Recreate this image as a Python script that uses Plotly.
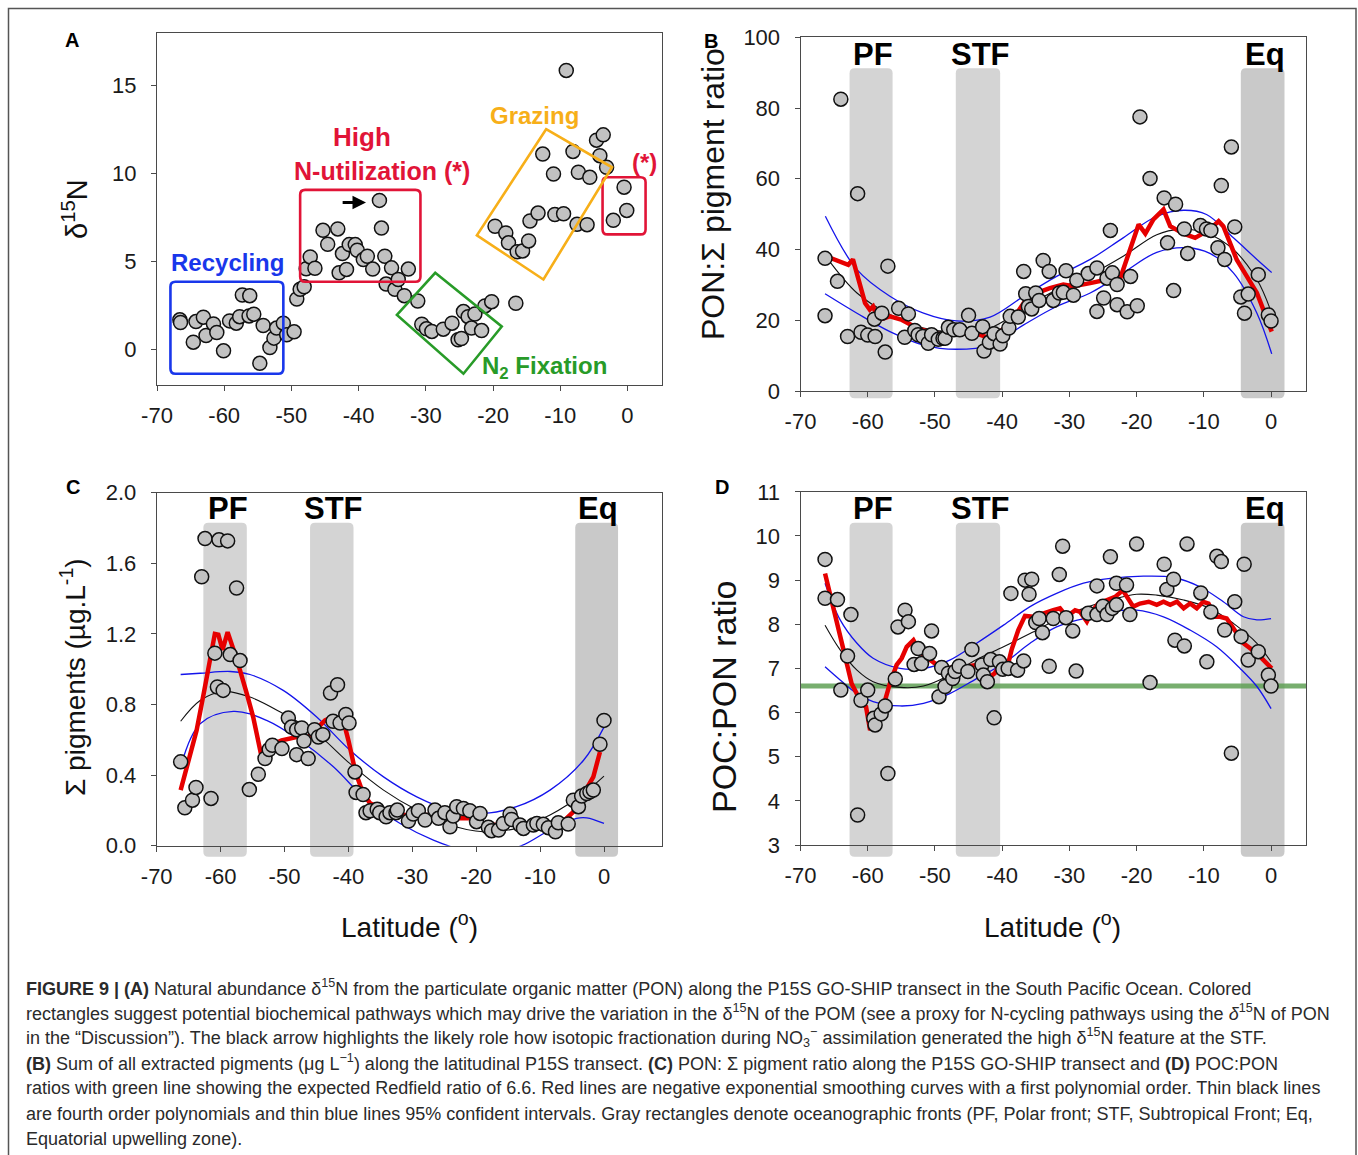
import plotly.graph_objects as go

W, H = 1358, 1155
FONT = "Liberation Sans, Arial, sans-serif"

# ---------------- Panel A data ----------------
a_lat = [-66.6,-66.5,-64.2,-63.1,-64.6,-62.7,-61.6,-61.1,-60.1,-59.2,
         -58.2,-57.7,-57.3,-56.2,-56.3,-55.6,-54.2,-54.7,-53.2,-52.6,
         -52.2,-51.2,-50.7,-49.6,-49.2,-48.7,-48.1,-47.8,-47.2,-46.5,
         -45.3,-44.6,-43.1,-42.9,-41.8,-42.4,-41.4,-40.5,-40.2,-39.3,
         -38.7,-37.9,-36.9,-36.6,-36.1,-35.9,-35.1,-34.6,-34.1,-33.2,
         -32.6,-31.2,-30.6,-29.9,-29.1,-27.4,-26.1,-25.2,-24.7,-24.4,
         -23.7,-22.7,-23.2,-21.7,-21.2,-20.2,-16.6,-19.7,-18.1,-17.7,
         -16.4,-15.6,-14.7,-14.5,-13.3,-12.6,-11.0,-10.8,-9.5,-9.1,
         -8.1,-7.3,-7.5,-6.0,-5.6,-4.6,-3.6,-4.1,-3.1,-0.5,
         -0.1,-2.1]
a_d15n = [1.70,1.55,1.6,1.85,0.43,0.81,1.47,0.98,-0.06,1.64,
          1.51,1.88,3.11,3.07,1.92,2.02,1.38,-0.77,0.13,0.66,
          1.23,1.51,0.85,1.02,2.88,3.43,3.58,4.60,5.27,4.63,
          6.78,5.99,6.86,4.37,4.56,5.46,5.97,5.97,5.65,5.12,
          5.31,4.58,8.48,6.91,5.31,3.73,4.65,3.43,3.99,3.07,
          4.58,2.77,1.45,1.19,1.04,1.17,1.51,0.57,0.64,2.17,
          1.88,2.03,1.23,1.09,2.49,2.73,2.64,7.01,6.63,6.07,
          5.56,5.61,6.18,7.31,7.76,11.11,9.98,7.68,7.72,15.86,
          11.26,10.08,7.12,7.10,9.79,11.90,12.2,11.02,10.36,9.23,
          7.91,7.35]

# ---------------- Panel B data (PON : sum pigment ratio) ----------------
b_lat = [-66.35,-66.35,-64.5,-64.0,-63.0,-61.5,-61.0,-60.0,-59.0,-58.9,
         -57.9,-57.4,-57.0,-55.4,-54.5,-53.95,-53.0,-52.5,-51.8,-51.0,
         -50.5,-49.5,-48.8,-48.5,-48.0,-47.2,-46.3,-45.0,-44.5,-42.9,
         -42.7,-41.9,-41.2,-40.3,-39.9,-39.0,-38.8,-37.6,-36.8,-36.5,
         -36.1,-35.6,-35.0,-34.5,-33.9,-33.0,-32.4,-31.5,-30.9,-30.5,
         -29.4,-28.9,-27.2,-25.9,-25.9,-24.9,-24.4,-23.9,-23.6,-22.9,
         -22.9,-21.4,-20.9,-19.9,-19.5,-18.0,-15.9,-15.4,-14.5,-14.2,
         -12.9,-12.4,-10.5,-9.6,-8.95,-7.9,-7.4,-6.9,-5.9,-5.4,
         -4.5,-3.95,-3.4,-1.9,-0.4,0.0]
b_ratio = [37.5,21.3,31.0,82.5,15.4,55.8,16.6,15.8,20.3,15.4,
           22.0,11.0,35.3,23.4,15.2,21.8,17.1,15.9,15.4,13.5,
           15.9,14.6,14.9,14.9,18.0,17.3,17.3,21.4,16.3,18.2,
           11.3,13.8,16.2,13.3,15.6,17.8,21.1,20.9,33.8,27.5,
           23.9,23.2,27.7,25.6,36.9,33.8,25.6,27.7,27.9,34.0,
           27.1,31.3,33.2,34.8,22.5,26.3,31.9,45.4,33.4,30.1,
           24.4,22.4,32.4,24.1,77.5,60.1,54.6,41.9,28.4,52.8,
           45.8,38.9,46.8,45.8,45.4,40.5,58.1,37.2,69.0,46.4,
           26.6,22.0,27.4,32.9,21.5,19.8]
b_red_lat = [-66.2,-62.9,-62.2,-60.4,-59.7,-59.2,-58.4,-56.7,-54.9,-52.7,
             -50.2,-48.2,-45.8,-43.8,-41.8,-40.3,-38.8,-36.8,-34.9,-32.9,
             -30.9,-29.4,-26.9,-24.4,-22.5,-22.0,-21.0,-19.7,-18.7,-17.5,
             -16.0,-15.0,-13.0,-11.3,-9.1,-7.8,-7.1,-5.1,-3.6,-2.1,0.1]
b_red = [38.1,35.7,37.2,24.9,23.0,23.9,20.1,21.1,20.1,17.8,
         16.3,15.9,16.3,16.2,14.9,16.8,19.2,24.9,27.7,29.1,
         30.1,29.6,30.5,31.5,31.5,34.3,40.0,47.1,44.5,48.5,
         51.3,46.6,44.5,43.3,45.7,48.0,46.6,37.1,32.4,27.7,16.8]
b_fit_lat = [-65.9,-61.6,-56.7,-51.7,-46.8,-41.8,-36.8,-31.9,-26.9,-22.0,-17.0,-13.5,-9.6,-5.6,-2.1,-0.1]
b_fit = [37.2,27.7,21.6,17.8,16.8,17.8,23.4,28.6,32.9,38.1,44.2,45.7,44.7,40.0,31.5,23.0]
b_up_lat = [-66.3,-61.6,-56.7,-51.7,-46.8,-41.8,-36.8,-31.9,-26.9,-22.0,-17.0,-13.0,-9.6,-5.6,-2.1,0.1]
b_up = [49.4,34.3,26.8,22.0,19.8,20.9,26.8,32.4,37.2,43.3,49.4,51.1,49.9,43.3,37.2,33.5]
b_lo_lat = [-66.35,-61.6,-56.7,-51.7,-46.8,-41.8,-36.8,-31.9,-26.9,-22.0,-17.0,-12.5,-9.1,-5.6,-2.1,0.1]
b_lo = [27.5,22.0,16.8,13.0,11.8,13.0,18.7,23.9,27.7,33.4,39.2,40.5,38.9,33.4,22.0,10.5]

# ---------------- Panel C data (sum pigments) ----------------
c_lat = [-66.25,-65.6,-64.4,-63.85,-62.96,-62.44,-61.5,-60.9,-60.5,-60.25,
         -59.6,-58.9,-58.5,-57.5,-56.96,-55.5,-54.1,-53.05,-52.4,-51.9,
         -50.4,-49.4,-48.9,-48.1,-47.3,-48.1,-46.95,-46.3,-45.3,-44.7,
         -44.0,-42.8,-41.7,-42.4,-41.3,-40.4,-39.9,-38.97,-38.8,-37.7,
         -37.25,-36.6,-35.5,-35.1,-34.1,-33.5,-32.55,-32.35,-30.6,-29.85,
         -29.05,-28.0,-26.45,-25.9,-24.9,-24.1,-23.6,-23.05,-22.0,-21.0,
         -19.95,-19.4,-18.1,-17.6,-16.5,-15.75,-14.7,-14.45,-13.15,-12.6,
         -11.06,-10.5,-9.5,-8.7,-7.6,-7.15,-5.6,-4.8,-4.0,-3.5,
         -2.7,-2.2,-1.67,-0.63,0.0]
c_pig = [0.475,0.215,0.258,0.330,1.524,1.740,0.268,1.091,0.899,1.733,
         0.880,1.727,1.083,1.460,1.049,0.318,0.405,0.494,0.545,0.569,
         0.550,0.723,0.672,0.657,0.667,0.516,0.593,0.494,0.657,0.616,
         0.629,0.865,0.912,0.705,0.695,0.744,0.695,0.418,0.302,0.290,
         0.187,0.198,0.206,0.187,0.164,0.187,0.187,0.202,0.140,0.179,
         0.198,0.145,0.202,0.155,0.187,0.107,0.168,0.221,0.211,0.198,
         0.136,0.183,0.104,0.085,0.089,0.126,0.179,0.149,0.117,0.098,
         0.117,0.126,0.121,0.102,0.079,0.130,0.123,0.258,0.221,0.281,
         0.296,0.305,0.315,0.575,0.710]
c_red_lat = [-66.25,-63.75,-62.55,-61.5,-60.9,-60.35,-59.7,-58.9,-57.4,-55.9,
             -54.9,-53.7,-52.8,-50.45,-48.1,-46.5,-44.96,-43.66,-42.9,-40.8,
             -40.0,-38.9,-37.7,-36.6,-34.5,-31.9,-29.3,-26.7,-24.1,-21.0,
             -18.9,-16.8,-14.7,-12.6,-10.5,-8.45,-6.4,-4.8,-3.75,-2.7,-1.67,-0.63]
c_red = [0.315,0.654,0.880,1.091,1.200,1.196,1.110,1.21,1.049,0.861,
         0.729,0.522,0.560,0.597,0.616,0.607,0.663,0.710,0.723,0.710,
         0.597,0.418,0.296,0.24,0.202,0.174,0.174,0.174,0.155,0.155,
         0.126,0.117,0.145,0.126,0.121,0.117,0.136,0.192,0.258,0.324,0.390,0.531]
c_fit_lat = [-66.25,-63.2,-59.6,-55.4,-50.2,-44.96,-39.75,-34.5,-29.3,-24.1,-18.9,-13.7,-8.45,-3.2,0.0]
c_fit = [0.705,0.823,0.874,0.842,0.748,0.635,0.465,0.315,0.202,0.117,0.079,0.098,0.174,0.296,0.394]
c_up_lat = [-66.25,-63.2,-58.5,-55.4,-50.2,-44.96,-39.75,-34.5,-29.3,-24.1,-18.9,-13.7,-8.45,-3.2,0.0]
c_up = [0.970,0.977,0.987,0.970,0.880,0.729,0.541,0.390,0.277,0.202,0.183,0.221,0.315,0.484,0.672]
c_lo_lat = [-66.25,-63.2,-58.0,-52.8,-47.6,-42.35,-37.15,-31.9,-26.7,-21.5,-17.0,-12.9,-8.45,-4.3,-2.7,0.0]
c_lo = [0.447,0.691,0.761,0.710,0.597,0.447,0.258,0.126,0.032,-0.03,-0.035,0.0,0.089,0.155,0.158,0.126]

# ---------------- Panel D data (POC:PON) ----------------
d_lat = [-66.35,-66.35,-64.5,-64.0,-63.0,-62.5,-61.5,-61.0,-60.0,-59.1,
         -58.9,-58.0,-57.4,-57.0,-55.9,-55.5,-54.45,-53.95,-53.1,-52.5,
         -52.0,-50.8,-50.5,-49.4,-49.0,-48.5,-48.0,-47.35,-47.0,-46.4,
         -45.1,-44.5,-43.0,-42.8,-42.2,-41.7,-41.2,-40.4,-39.9,-39.1,
         -38.7,-37.7,-36.8,-36.6,-35.6,-36.0,-35.0,-34.5,-34.0,-33.0,
         -32.4,-31.5,-31.0,-30.5,-29.5,-29.0,-27.2,-25.9,-25.9,-25.0,
         -24.4,-23.9,-23.6,-23.0,-23.0,-21.5,-21.0,-20.0,-18.0,-15.9,
         -15.5,-14.5,-14.3,-12.9,-12.5,-10.45,-9.55,-8.95,-8.07,-7.4,
         -6.9,-5.9,-5.4,-4.45,-4.0,-3.4,-1.9,-0.4,0.0]
d_cn = [9.47,8.59,8.56,6.51,7.28,8.22,3.68,6.28,6.51,5.87,
        5.72,5.97,6.15,4.62,6.76,7.94,8.32,8.06,7.09,7.45,
        7.11,7.34,7.85,6.36,7.02,6.59,6.89,6.77,6.93,7.05,
        6.93,7.43,7.08,6.85,6.70,7.20,5.88,7.15,6.98,7.00,
        8.70,6.96,7.17,9.00,9.02,8.68,8.04,8.13,7.81,7.05,
        8.13,9.13,9.77,8.15,7.85,6.94,8.25,8.87,8.22,8.41,
        8.22,9.53,8.36,8.44,8.93,8.89,8.22,9.82,6.68,9.36,
        8.79,9.02,7.64,7.51,9.82,8.71,7.15,8.28,9.54,9.42,
        7.87,5.08,8.51,7.72,9.36,7.19,7.38,6.85,6.6]
d_red_lat = [-66.35,-65.1,-63.6,-62.4,-60.9,-60.25,-59.65,-58.9,-57.7,-56.7,
             -55.7,-54.95,-54.2,-53.2,-52.5,-51.7,-50.7,-49.7,-48.2,-46.8,
             -45.3,-43.8,-42.8,-41.8,-41.1,-40.3,-39.1,-38.6,-37.6,-36.6,
             -35.35,-33.9,-32.4,-31.4,-30.4,-29.15,-28.4,-27.4,-26.7,-25.7,
             -24.4,-23.2,-22.05,-21.2,-20.5,-19.5,-18.2,-17.0,-16.0,-15.0,
             -14.0,-13.0,-12.05,-11.05,-10.1,-9.3,-8.3,-7.6,-6.6,-5.6,
             -4.1,-2.1,0.1]
d_red = [9.15,8.40,7.42,6.66,6.21,6.13,5.60,5.91,6.13,6.66,
         7.08,7.23,7.49,7.64,7.45,7.30,7.19,7.08,7.00,7.04,
         7.04,7.08,6.96,6.81,6.89,7.11,7.11,7.42,7.87,8.19,
         8.17,8.25,8.32,8.36,8.17,8.32,8.28,8.06,8.28,8.47,
         8.55,8.62,8.77,8.59,8.40,8.47,8.51,8.44,8.51,8.44,
         8.51,8.36,8.47,8.36,8.51,8.47,8.17,8.17,8.13,7.91,
         7.57,7.34,7.00]
d_fit_lat = [-66.35,-64.1,-61.6,-59.2,-55.2,-51.7,-47.8,-43.8,-39.8,-35.85,-31.9,-27.9,-23.9,-20.0,-17.0,-13.0,-9.05,-5.6,-2.1,0.0]
d_fit = [7.98,7.42,6.96,6.70,6.57,6.60,6.85,7.20,7.49,7.79,8.10,8.36,8.55,8.68,8.66,8.55,8.36,8.02,7.57,7.15]
d_up_lat = [-66.35,-64.1,-61.6,-59.2,-55.2,-51.7,-47.8,-43.8,-39.8,-35.85,-31.9,-27.9,-23.9,-19.0,-14.5,-10.6,-7.1,-4.1,-2.1,0.0]
d_up = [8.93,8.10,7.57,7.23,7.00,7.00,7.19,7.57,7.98,8.40,8.70,8.93,9.04,9.09,9.06,8.85,8.51,8.17,8.10,8.13]
d_lo_lat = [-66.35,-64.1,-61.6,-59.2,-55.2,-51.7,-47.8,-43.8,-39.8,-35.85,-31.9,-27.9,-23.9,-20.0,-16.0,-12.05,-8.1,-4.6,-2.1,0.0]
d_lo = [7.04,6.74,6.43,6.25,6.15,6.21,6.43,6.77,7.11,7.57,7.94,8.13,8.28,8.32,8.17,7.87,7.49,7.00,6.59,6.09]
redfield = 6.6

x_ticks = [-70, -60, -50, -40, -30, -20, -10, 0]
x_tick_labels = ["-70", "-60", "-50", "-40", "-30", "-20", "-10", "0"]
front_names = ["PF", "STF", "Eq"]
fronts_bd = [(-62.7, -56.3), (-46.9, -40.3), (-4.5, 2.0)]
fronts_c = [(-62.7, -55.9), (-46.0, -39.2), (-4.5, 2.2)]
front_label_lat_bd = [-59.2, -43.2, -0.9]
front_label_lat_c = [-58.9, -42.3, -0.9]

# ---------------- helpers ----------------
def PX(px):
    return px / W

def PY(py):
    return 1 - py / H

fig = go.Figure()

panels = {
    "A": ("x", "y", (157, 661.7), (32.7, 385), [-70, 5.1], [-2, 18]),
    "B": ("x2", "y2", (800.5, 1306), (37.3, 391), [-70, 5.2], [0, 100]),
    "C": ("x3", "y3", (156.7, 661.7), (492.7, 845.7), [-70, 9.03], [0, 2]),
    "D": ("x4", "y4", (800.5, 1306), (491.85, 845), [-70, 5.2], [3, 11]),
}
ytick_sets = {
    "A": ([0, 5, 10, 15], ["0", "5", "10", "15"]),
    "B": ([0, 20, 40, 60, 80, 100], ["0", "20", "40", "60", "80", "100"]),
    "C": ([0, 0.4, 0.8, 1.2, 1.6, 2.0], ["0.0", "0.4", "0.8", "1.2", "1.6", "2.0"]),
    "D": ([3, 4, 5, 6, 7, 8, 9, 10, 11], ["3", "4", "5", "6", "7", "8", "9", "10", "11"]),
}
AX_COL = "#4a4a4a"
layout_axes = {}
for name, (xa, ya, xp, yp, xr, yr) in panels.items():
    xkey = "xaxis" if xa == "x" else "xaxis" + xa[1:]
    ykey = "yaxis" if ya == "y" else "yaxis" + ya[1:]
    layout_axes[xkey] = dict(
        domain=[PX(xp[0]), PX(xp[1])], range=xr, anchor=ya, automargin=False,
        showline=True, linecolor=AX_COL, linewidth=1, mirror=True,
        ticks="outside", ticklen=5, tickcolor=AX_COL, tickwidth=1,
        tickmode="array", tickvals=x_ticks, ticktext=x_tick_labels,
        showgrid=False, zeroline=False,
        tickfont=dict(family=FONT, size=22, color="#1a1a1a"),
        ticklabelstandoff=6,
    )
    tv, tt = ytick_sets[name]
    layout_axes[ykey] = dict(
        domain=[PY(yp[1]), PY(yp[0])], range=yr, anchor=xa, automargin=False,
        showline=True, linecolor=AX_COL, linewidth=1, mirror=True,
        ticks="outside", ticklen=5, tickcolor=AX_COL, tickwidth=1,
        tickmode="array", tickvals=tv, ticktext=tt,
        showgrid=False, zeroline=False,
        tickfont=dict(family=FONT, size=22, color="#1a1a1a"),
        ticklabelstandoff=10,
    )

MARKER = dict(size=14, color="#c2c2c2", line=dict(color="#111111", width=1.5))
RED = "rgb(230,0,0)"
BLUE = "rgb(20,20,235)"

def add_lines(xa, ya, fit_x, fit_y, up_x, up_y, lo_x, lo_y, red_x, red_y):
    for xs, ys, col, w, shp in [
        (up_x, up_y, BLUE, 1.3, "spline"),
        (lo_x, lo_y, BLUE, 1.3, "spline"),
        (fit_x, fit_y, "#111111", 1.1, "spline"),
        (red_x, red_y, RED, 4.5, "linear"),
    ]:
        fig.add_trace(go.Scatter(x=xs, y=ys, mode="lines", xaxis=xa, yaxis=ya,
                                 line=dict(color=col, width=w, shape=shp),
                                 showlegend=False, hoverinfo="skip"))

fig.add_trace(go.Scatter(x=a_lat, y=a_d15n, mode="markers", marker=MARKER,
                         xaxis="x", yaxis="y", showlegend=False))
add_lines("x2", "y2", b_fit_lat, b_fit, b_up_lat, b_up, b_lo_lat, b_lo, b_red_lat, b_red)
fig.add_trace(go.Scatter(x=b_lat, y=b_ratio, mode="markers", marker=MARKER,
                         xaxis="x2", yaxis="y2", showlegend=False))
add_lines("x3", "y3", c_fit_lat, c_fit, c_up_lat, c_up, c_lo_lat, c_lo, c_red_lat, c_red)
fig.add_trace(go.Scatter(x=c_lat, y=c_pig, mode="markers", marker=MARKER,
                         xaxis="x3", yaxis="y3", showlegend=False))
add_lines("x4", "y4", d_fit_lat, d_fit, d_up_lat, d_up, d_lo_lat, d_lo, d_red_lat, d_red)
fig.add_trace(go.Scatter(x=d_lat, y=d_cn, mode="markers", marker=MARKER,
                         xaxis="x4", yaxis="y4", showlegend=False))

shapes = []
annotations = []

# Outer frame
shapes.append(dict(type="rect", xref="paper", yref="paper",
                   x0=PX(8.5), x1=PX(1356), y0=PY(1165), y1=PY(8.5),
                   line=dict(color="#555555", width=1.5), fillcolor="rgba(0,0,0,0)"))

def rounded_path(x0, x1, y0, y1, rx, ry):
    return (f"M {x0+rx},{y0} L {x1-rx},{y0} Q {x1},{y0} {x1},{y0+ry} "
            f"L {x1},{y1-ry} Q {x1},{y1} {x1-rx},{y1} L {x0+rx},{y1} "
            f"Q {x0},{y1} {x0},{y1-ry} L {x0},{y0+ry} Q {x0},{y0} {x0+rx},{y0} Z")

front_specs = [
    ("x2", fronts_bd, 6.72, 68.3, 398.3, front_label_lat_bd, 54),
    ("x3", fronts_c, 6.39, 522.7, 856.7, front_label_lat_c, 508.5),
    ("x4", fronts_bd, 6.72, 522.7, 856.7, front_label_lat_bd, 508.5),
]
for xa, fr, sx, top, bot, lab_x, lab_y in front_specs:
    for (f0, f1), nm, lx in zip(fr, front_names, lab_x):
        col = "#c9c9c9" if nm == "Eq" else "#d4d4d4"
        shapes.append(dict(type="path", xref=xa, yref="paper", layer="below",
                           path=rounded_path(f0, f1, PY(bot), PY(top), 5 / sx, 5 / H),
                           fillcolor=col, line=dict(width=0)))
        annotations.append(dict(xref=xa, yref="paper", x=lx, y=PY(lab_y),
                                text=f"<b>{nm}</b>", showarrow=False,
                                xanchor="center", yanchor="middle",
                                font=dict(family=FONT, size=31, color="#000")))

shapes.append(dict(type="line", xref="x4 domain", yref="y4", x0=0, x1=1,
                   y0=redfield, y1=redfield, layer="below",
                   line=dict(color="rgba(95,160,85,0.85)", width=5)))

SX_A, SY_A = 6.72, 17.7
def rbox(x0, x1, y0, y1, col):
    return dict(type="path", xref="x", yref="y",
                path=rounded_path(x0, x1, y0, y1, 5 / SX_A, 5 / SY_A),
                line=dict(color=col, width=2.6), fillcolor="rgba(0,0,0,0)")

BLUE_A = "rgb(25,55,235)"
RED_A = "rgb(225,20,55)"
ORANGE_A = "rgb(247,175,25)"
GREEN_A = "rgb(40,155,40)"
shapes.append(rbox(-68.0, -51.2, -1.36, 3.86, BLUE_A))
shapes.append(rbox(-48.7, -30.8, 3.86, 9.08, RED_A))
shapes.append(rbox(-3.7, 2.7, 6.55, 9.79, RED_A))
def poly(pts, col):
    p = "M " + " L ".join(f"{x},{y}" for x, y in pts) + " Z"
    return dict(type="path", xref="x", yref="y", path=p,
                line=dict(color=col, width=2.6), fillcolor="rgba(0,0,0,0)")
shapes.append(poly([(-12.1, 12.52), (-2.3, 10.36), (-12.5, 3.99), (-22.4, 6.5)], ORANGE_A))
shapes.append(poly([(-28.6, 4.37), (-18.7, 1.32), (-24.4, -1.36), (-34.3, 1.98)], GREEN_A))

def lab(x, y, text, col, size=25):
    annotations.append(dict(xref="x", yref="y", x=x, y=y, text=f"<b>{text}</b>",
                            showarrow=False, xanchor="center", yanchor="middle",
                            font=dict(family=FONT, size=size, color=col)))
lab(-59.5, 4.97, "Recycling", BLUE_A, 24)
lab(-39.54, 12.09, "High", RED_A, 26)
lab(-36.52, 10.17, "N-utilization (*)", RED_A, 25)
lab(-13.8, 13.28, "Grazing", ORANGE_A, 24)
lab(2.57, 10.64, "(*)", RED_A, 24)
lab(-12.4, -1.02, "N<sub>2</sub> Fixation", GREEN_A, 24)
annotations.append(dict(xref="x", yref="y", x=-38.9, y=8.36, ax=-42.6, ay=8.36,
                        axref="x", ayref="y", text="", showarrow=True,
                        arrowhead=2, arrowsize=0.9, arrowwidth=3, arrowcolor="#000"))

for txt, px, py in [("A", 72, 40), ("B", 711, 41), ("C", 73, 487), ("D", 722, 487)]:
    annotations.append(dict(xref="paper", yref="paper", x=PX(px), y=PY(py),
                            text=f"<b>{txt}</b>", showarrow=False,
                            xanchor="center", yanchor="middle",
                            font=dict(family=FONT, size=20, color="#000")))

def title(text, px, py, angle, size):
    annotations.append(dict(xref="paper", yref="paper", x=PX(px), y=PY(py),
                            text=text, showarrow=False, textangle=angle,
                            xanchor="center", yanchor="middle",
                            font=dict(family=FONT, size=size, color="#111")))
title("δ<sup>15</sup>N", 75, 209, -90, 29)
title("PON:Σ pigment ratio", 713, 194, -90, 32)
title("Σ pigments (µg.L<sup>-1</sup>)", 73, 677, -90, 28)
title("POC:PON ratio", 724, 697, -90, 34)
title("Latitude (<sup>o</sup>)", 409, 925, 0, 28)
title("Latitude (<sup>o</sup>)", 1052, 925, 0, 28)

caption_lines = [
    "<b>FIGURE 9 | (A)</b> Natural abundance δ<sup>15</sup>N from the particulate organic matter (PON) along the P15S GO-SHIP transect in the South Pacific Ocean. Colored",
    "rectangles suggest potential biochemical pathways which may drive the variation in the δ<sup>15</sup>N of the POM (see a proxy for N-cycling pathways using the <i>δ</i><sup>15</sup>N of PON",
    "in the “Discussion”). The black arrow highlights the likely role how isotopic fractionation during NO<sub>3</sub><sup>−</sup> assimilation generated the high δ<sup>15</sup>N feature at the STF.",
    "<b>(B)</b> Sum of all extracted pigments (μg L<sup>−1</sup>) along the latitudinal P15S transect. <b>(C)</b> PON: Σ pigment ratio along the P15S GO-SHIP transect and <b>(D)</b> POC:PON",
    "ratios with green line showing the expected Redfield ratio of 6.6. Red lines are negative exponential smoothing curves with a first polynomial order. Thin black lines",
    "are fourth order polynomials and thin blue lines 95% confident intervals. Gray rectangles denote oceanographic fronts (PF, Polar front; STF, Subtropical Front; Eq,",
    "Equatorial upwelling zone).",
]
for i, line in enumerate(caption_lines):
    annotations.append(dict(xref="paper", yref="paper", x=PX(24), y=PY(987 + i * 25.3),
                            text=line, showarrow=False, xanchor="left", yanchor="middle",
                            font=dict(family=FONT, size=18, color="#2a2a2a")))

fig.update_layout(
    width=W, height=H, margin=dict(l=0, r=0, t=0, b=0, pad=0, autoexpand=False),
    paper_bgcolor="white", plot_bgcolor="white",
    shapes=shapes, annotations=annotations, showlegend=False,
    **layout_axes,
)
fig.write_html("out.html")
